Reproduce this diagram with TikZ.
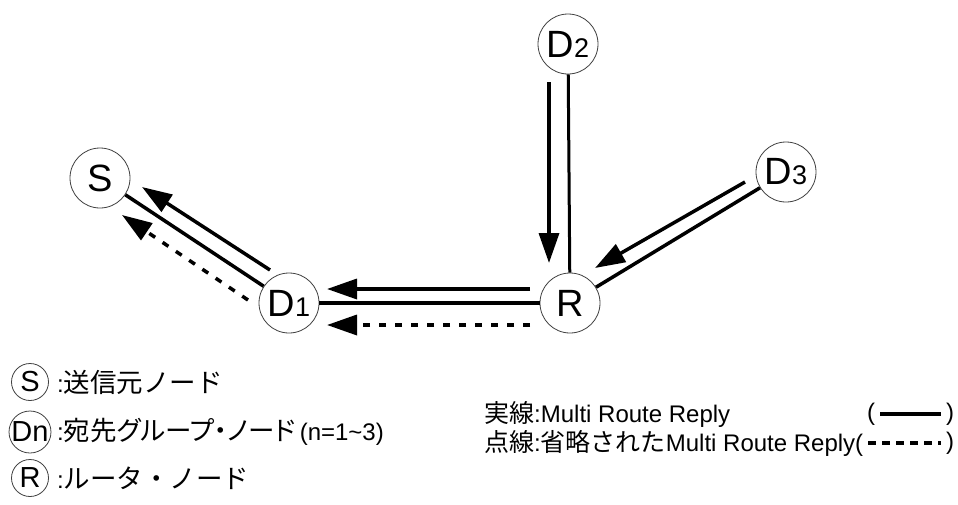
\documentclass[tikz,border=0pt]{standalone}
\usepackage{fontspec}
\setmainfont{Liberation Sans}
\newfontfamily\jp{Noto Sans CJK JP}
\newfontfamily\jpp[RawFeature=+palt]{Noto Sans CJK JP}
\usetikzlibrary{arrows.meta}
\begin{document}
\begin{tikzpicture}[x=1pt,y=-1pt,
  nd/.style={circle,draw=black!75,line width=0.8pt,fill=white,minimum size=60pt,inner sep=0pt,font=\fontsize{38}{38}\selectfont},
  lg/.style={circle,draw=black!75,line width=0.8pt,fill=white,minimum size=37pt,inner sep=0pt,font=\fontsize{29}{29}\selectfont},
  conn/.style={line width=3.5pt},
  arr/.style={line width=3.5pt,-{Triangle[length=30pt,width=20pt]}},
  darr/.style={arr,dash pattern=on 7pt off 9pt},
  txt/.style={anchor=west,inner sep=0pt,font=\fontsize{24}{24}\selectfont}]
\useasboundingbox (0,0) rectangle (958,504);
\newcommand\sub[1]{{\fontsize{27}{27}\selectfont #1}}
\newcommand\J[1]{{\fontsize{25}{25}\jp #1}}
\newcommand\JL[1]{{\fontsize{26.5}{26.5}\jp #1}}
\newcommand\JP[1]{{\fontsize{26.5}{26.5}\jpp #1}}
% nodes
\node[nd] (S) at (100,178) {S};
\node[nd] (D1) at (289,303) {D\sub{1}};
\node[nd] (R) at (570,303) {R};
\node[nd] (D2) at (568,44) {D\sub{2}};
\node[nd] (D3) at (786,172) {D\sub{3}};
% solid links
\draw[conn] (D1) -- (S);
\draw[conn] (R) -- (D1);
\draw[line width=3pt] (D2) -- (R);
\draw[conn] (D3) -- (R);
% arrow ends
\coordinate (a1t) at (270,270); \coordinate (a1h) at (142,187);
\coordinate (a2t) at (248,300); \coordinate (a2h) at (122,215);
\coordinate (a3t) at (530,289); \coordinate (a3h) at (327,289);
\coordinate (a4t) at (530,325); \coordinate (a4h) at (327,325);
\coordinate (a5t) at (549,82);  \coordinate (a5h) at (549,263);
\coordinate (a6t) at (745,182); \coordinate (a6h) at (595,268);
\draw[arr] (a1t) -- (a1h);
\draw[darr] (a2t) -- (a2h);
\draw[arr] (a3t) -- (a3h);
\draw[darr] (a4t) -- (a4h);
\draw[arr] (a5t) -- (a5h);
\draw[arr] (a6t) -- (a6h);
% left legend
\node[lg] (LS) at (30,382) {S};
\node[lg] (LD) at (30,432) {Dn};
\node[lg] (LR) at (30,478) {R};
\node[txt] (tS) at (57,382) {:\JL{送信元ノード}};
\node[txt] (tD) at (57,432) {:\JL{宛先}\JP{グループ・ノード}\,(n=1\textasciitilde3)};
\node[txt] (tR) at (57,478) {:\JL{ルータ・ノード}};
% right legend
\node[txt] (t1) at (484,414) {\J{実線}:Multi Route Reply};
\node[txt] (t2) at (484,443) {\J{点線}:\J{省略された}Multi Route Reply(};
\node[txt] (p1l) at (867,414) {(};
\node[txt] (p1r) at (946,414) {)};
\node[txt] (p2r) at (946,443) {)};
\draw[line width=4pt] (p1l.east) ++(5,0) coordinate (l1a) -- ([xshift=-5pt]p1r.west);
\draw[line width=4pt,dash pattern=on 8pt off 6pt] (t2.east) ++(5,0) coordinate (l2a) -- ([xshift=-5pt]p2r.west);
\end{tikzpicture}
\end{document}
